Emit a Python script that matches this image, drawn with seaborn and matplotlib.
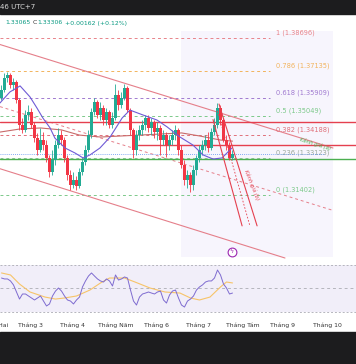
import matplotlib
matplotlib.use("Agg")
import matplotlib.pyplot as plt
from matplotlib.patches import Rectangle
import numpy as np
import pandas as pd
import seaborn as sns

sns.set_theme(style="white")
plt.rcParams['font.family'] = ['DejaVu Sans']

# ---------------- data ----------------
open_ = [1.3590,1.3627,1.3683,1.3697,1.3650,1.3664,1.3581,1.3465,1.3442,1.3511,
         1.3525,1.3465,1.3404,1.3349,1.3395,1.3372,1.3312,1.3247,1.3302,1.3372,
         1.3418,1.3395,1.3312,1.3233,1.3187,1.3210,1.3182,1.3247,1.3293,1.3349,
         1.3418,1.3525,1.3571,1.3511,1.3544,1.3488,1.3525,1.3465,1.3497,1.3604,
         1.3558,1.3590,1.3636,1.3534,1.3442,1.3349,1.3418,1.3442,1.3465,1.3497,
         1.3451,1.3479,1.3432,1.3451,1.3395,1.3418,1.3372,1.3395,1.3418,1.3442,
         1.3349,1.3279,1.3210,1.3233,1.3187,1.3256,1.3312,1.3349,1.3372,1.3395,
         1.3358,1.3432,1.3465,1.3544,1.3488,1.3395,1.3372,1.3312]
close = [1.3627,1.3683,1.3697,1.3650,1.3664,1.3581,1.3465,1.3442,1.3511,1.3525,
         1.3465,1.3404,1.3349,1.3395,1.3372,1.3312,1.3247,1.3302,1.3372,1.3418,
         1.3395,1.3312,1.3233,1.3187,1.3210,1.3182,1.3247,1.3293,1.3349,1.3418,
         1.3525,1.3571,1.3511,1.3544,1.3488,1.3525,1.3465,1.3497,1.3604,1.3558,
         1.3590,1.3636,1.3534,1.3442,1.3349,1.3418,1.3442,1.3465,1.3497,1.3451,
         1.3479,1.3432,1.3451,1.3395,1.3418,1.3372,1.3395,1.3418,1.3442,1.3349,
         1.3279,1.3210,1.3233,1.3187,1.3256,1.3312,1.3349,1.3372,1.3395,1.3358,
         1.3432,1.3465,1.3544,1.3488,1.3395,1.3372,1.3312,1.3331]
high = [1.3650,1.3706,1.3711,1.3706,1.3683,1.3673,1.3590,1.3497,1.3534,1.3558,
        1.3544,1.3479,1.3428,1.3451,1.3432,1.3395,1.3326,1.3349,1.3395,1.3451,
        1.3442,1.3409,1.3326,1.3256,1.3247,1.3228,1.3265,1.3312,1.3372,1.3442,
        1.3544,1.3590,1.3581,1.3571,1.3558,1.3544,1.3534,1.3525,1.3655,1.3627,
        1.3618,1.3655,1.3646,1.3544,1.3451,1.3442,1.3465,1.3488,1.3511,1.3511,
        1.3497,1.3488,1.3479,1.3465,1.3442,1.3432,1.3418,1.3442,1.3465,1.3451,
        1.3372,1.3302,1.3256,1.3247,1.3279,1.3326,1.3372,1.3395,1.3418,1.3432,
        1.3451,1.3497,1.3567,1.3558,1.3497,1.3418,1.3386,1.3349]
low = [1.3581,1.3618,1.3664,1.3636,1.3627,1.3567,1.3442,1.3428,1.3432,1.3488,
       1.3451,1.3386,1.3326,1.3340,1.3349,1.3293,1.3224,1.3233,1.3279,1.3358,
       1.3372,1.3293,1.3210,1.3163,1.3173,1.3163,1.3173,1.3233,1.3279,1.3340,
       1.3404,1.3511,1.3497,1.3488,1.3465,1.3465,1.3451,1.3451,1.3488,1.3534,
       1.3544,1.3581,1.3525,1.3418,1.3312,1.3326,1.3395,1.3418,1.3442,1.3432,
       1.3418,1.3404,1.3395,1.3326,1.3372,1.3316,1.3349,1.3372,1.3395,1.3326,
       1.3265,1.3187,1.3173,1.3154,1.3163,1.3233,1.3293,1.3326,1.3349,1.3340,
       1.3349,1.3418,1.3451,1.3465,1.3386,1.3349,1.3302,1.3302]

rsi = [58.5,57.7,57.7,56.0,52.6,46.6,40.6,44.9,44.9,43.2,
       41.5,39.8,41.5,43.2,38.9,34.7,36.4,43.2,47.4,50.0,
       47.4,43.2,39.8,38.9,36.4,39.8,42.3,50.9,56.0,60.2,
       62.8,60.2,57.7,56.0,55.1,57.7,56.0,51.7,61.1,56.8,
       57.7,59.4,58.5,48.3,38.9,35.5,42.3,44.9,45.7,46.6,
       45.7,44.9,46.6,47.4,39.8,37.2,44.0,47.4,48.3,41.5,
       35.5,33.8,38.9,40.6,43.2,48.3,50.9,52.6,55.1,56.0,
       56.0,58.5,65.3,61.1,53.4,50.0,44.9,45.7]
rsi_ma_idx = [0, 3, 6, 9.5, 14.5, 18, 21, 25, 29.5, 33, 36, 41, 44.5, 49.5,
              54.5, 59.5, 63, 66, 69.5, 73, 75, 77]
rsi_ma_val = [62.8, 61.1, 53.4, 46.6, 42.3, 40.6, 41.5, 43.2, 48.3, 54.3, 58.5,
              58.5, 55.1, 50.0, 46.6, 45.7, 41.5, 39.8, 42.3, 50.9, 55.1, 54.3]

ma_fast_idx = [-0.5, 2.8, 6.2, 9.5, 11.8, 13.8, 16.2, 17.8, 21.2, 24.5, 27.2, 29.5,
               32.8, 36.2, 40.2, 42.8, 47.2, 51.8, 55.2, 59.5, 63.8, 67.2, 70.5,
               73.5, 76.8]
ma_fast_val = [1.3567, 1.3618, 1.3646, 1.3595, 1.3544, 1.3497, 1.3451, 1.3404,
               1.3358, 1.3335, 1.3312, 1.3326, 1.3358, 1.3409, 1.3497, 1.3534,
               1.3511, 1.3488, 1.3456, 1.3409, 1.3372, 1.3326, 1.3307, 1.3312,
               1.3358]
ma_slow_idx = [-0.5, 6, 13, 20, 26, 33, 40, 46, 53, 60, 66, 73, 77]
ma_slow_val = [1.3432, 1.3446, 1.3451, 1.3442, 1.3418, 1.3409, 1.3414, 1.3418,
               1.3423, 1.3428, 1.3414, 1.3395, 1.3390]

fib_ratio = ["1", "0.786", "0.618", "0.5", "0.382", "0.236", "0"]
fib_price = [1.38696, 1.37135, 1.35909, 1.35049, 1.34188, 1.33123, 1.31402]
fib_color = ["#e8838a", "#f2b35c", "#a07ad0", "#7cc98a", "#e0707a", "#8fc49a", "#7cc98a"]
fib_text_color = ["#e8838a", "#f2b35c", "#a07ad0", "#7cc98a", "#e0707a", "#9aa89a", "#7cc98a"]
fib_x = [-0.5, 89.5]

chan_a_x = [-0.5, 110.5]
chan_a_upper = [1.3838, 1.3358]
chan_a_mid_x = [-0.5, 110.2]
chan_a_mid = [1.3550, 1.3070]
chan_a_lower_x = [-0.5, 94.5]
chan_a_lower = [1.3262, 1.2848]

chan_b1_x = [72.5, 85.2]
chan_b1 = [1.3562, 1.2997]
chan_b2_x = [70.5, 80.2]
chan_b2 = [1.3490, 1.2997]
chan_b_mid_x = [72.0, 82.8]
chan_b_mid = [1.3530, 1.2997]

level_red1 = 1.3479
level_red2 = 1.3372
level_red2_start = 45.5
level_green = 1.3307
last_price = 1.33306

month_labels = ["Tháng 3", "Tháng 4", "Tháng Năm", "Tháng 6", "Tháng 7",
                "Tháng Tám", "Tháng 9", "Tháng 10"]
month_pos = [9.8, 23.8, 38.2, 51.8, 65.8, 80.5, 93.8, 108.5]

# ---------------- figure ----------------
W, H = 356, 364
fig = plt.figure(figsize=(W / 100, H / 100), dpi=100)
fig.patch.set_facecolor("white")

def fy(px):
    return 1 - px / H

ax = fig.add_axes([0, fy(262), 1, (262 - 14) / H])
axr = fig.add_axes([0, fy(318), 1, (318 - 262) / H])
xlim = (-0.5, 118.17)
ax.set_xlim(*xlim)
ax.set_ylim(1.28295, 1.39795)
axr.set_xlim(*xlim)
axr.set_ylim(24.47, 72.13)
for a in (ax, axr):
    for s in a.spines.values():
        s.set_visible(False)
    a.set_facecolor("white")
ax.set_xticks([])
ax.set_yticks([])
axr.set_yticks([])

df = pd.DataFrame({"i": np.arange(len(close)), "o": open_, "h": high, "l": low, "c": close})
df["up"] = df["c"] >= df["o"]
green, red = "#22ab94", "#f23645"
cols = np.where(df["up"], green, red)

# faint lavender area
ax.axvspan(60, 110.5, ymin=0.02, ymax=0.93, color="#f7f5fd", zorder=0, lw=0)

# fib levels
for r, p, c, tc in zip(fib_ratio, fib_price, fib_color, fib_text_color):
    ax.plot(fib_x, [p, p], color=c, lw=0.7, ls=(0, (3, 3)), zorder=1)
    ax.annotate(f"{r} ({p:.5f})", (91.5, p), xytext=(0, 1.5), textcoords="offset points",
                fontsize=4.8, color=tc, ha="left", va="bottom")

# channel (a)
ax.plot(chan_a_x, chan_a_upper, color="#e57f8a", lw=0.8, zorder=2)
ax.plot(chan_a_lower_x, chan_a_lower, color="#e57f8a", lw=0.8, zorder=2)
ax.plot(chan_a_mid_x, chan_a_mid, color="#e57f8a", lw=0.7, ls=(0, (3, 3)), zorder=2)

# horizontal levels
ax.axhline(level_red1, color="#e5404f", lw=1.0, zorder=3)
ax.plot([level_red2_start, xlim[1]], [level_red2, level_red2], color="#e5404f", lw=1.0, zorder=3)
ax.axhline(level_green, color="#4caf50", lw=1.0, zorder=3)
ax.plot([xlim[0], 107.8], [last_price, last_price], color="#5b8ff0", lw=0.6, ls=(0, (1, 1.5)), zorder=3)

# slow MA and fast MA
sns.lineplot(x=ma_slow_idx, y=ma_slow_val, ax=ax, color="#c96a6a", lw=0.8, zorder=4)
sns.lineplot(x=ma_fast_idx, y=ma_fast_val, ax=ax, color="#6f5bd6", lw=0.8, zorder=6)

# candles
ax.vlines(df["i"], df["l"], df["h"], colors=cols, lw=0.6, zorder=5)
body_h = (df["c"] - df["o"]).abs().clip(lower=0.00015)
ax.bar(df["i"], body_h, bottom=np.minimum(df["o"], df["c"]), width=0.7,
       color=cols, lw=0, zorder=5)

# channel (b)
ax.plot(chan_b1_x, chan_b1, color="#e5404f", lw=0.8, zorder=7)
ax.plot(chan_b2_x, chan_b2, color="#e5404f", lw=0.8, zorder=7)
ax.plot(chan_b_mid_x, chan_b_mid, color="#e5404f", lw=0.6, ls=(0, (2, 2)), zorder=7)

ax.text(104.5, 1.3375, "Kênh giá (a)", fontsize=3.8, color="#4caf50", rotation=-17,
        ha="center", va="center", style="italic")
ax.text(83.5, 1.3185, "Kênh giá (b)", fontsize=3.8, color="#e5404f", rotation=-68,
        ha="center", va="center", style="italic")

# event icon
ax.scatter([76.8], [1.2876], s=40, facecolor="white", edgecolor="#9c27b0", lw=0.8, zorder=8)
ax.text(76.8, 1.2876, "ϟ", fontsize=4.5, color="#9c27b0", ha="center", va="center", zorder=9)

# RSI panel
axr.axhspan(30, 70, color="#f1eef9", lw=0, zorder=0)
for lv, ls in ((70, (0, (2, 2))), (50, (0, (3, 3))), (30, (0, (2, 2)))):
    axr.axhline(lv, color="#b5b5bd", lw=0.7, ls=ls, zorder=1)
sns.lineplot(x=rsi_ma_idx, y=rsi_ma_val, ax=axr, color="#f7c469", lw=0.8, zorder=2)
sns.lineplot(x=np.arange(len(rsi)), y=rsi, ax=axr, color="#7e6bd0", lw=0.7, zorder=3)

axr.set_xticks(month_pos)
axr.set_xticklabels(month_labels, fontsize=4.4, color="#333333")
axr.tick_params(axis="x", length=0, pad=3)
axr.annotate("Tháng Hai", (2.4, 0), xycoords=("data", "axes fraction"),
             xytext=(0, -3), textcoords="offset points", fontsize=4.4,
             color="#333333", ha="right", va="top", annotation_clip=False)
for a in (ax, axr):
    a.set_xlabel("")
    a.set_ylabel("")

# dark bars and header texts
fig.patches.append(Rectangle((0, fy(14)), 1, 14 / H, transform=fig.transFigure,
                             color="#1c1c1e", zorder=0))
fig.patches.append(Rectangle((0, 0), 1, 32 / H, transform=fig.transFigure,
                             color="#1c1c1e", zorder=0))
fig.text(0, fy(7), "46 UTC+7", fontsize=5.0, color="#d8d8d8", ha="left", va="center")
fig.text(31 / W, fy(23), "1.33065", fontsize=4.4, color="#089981", ha="right", va="center")
fig.text(33 / W, fy(23), "C", fontsize=4.4, color="#333333", ha="left", va="center")
fig.text(37 / W, fy(23), "1.33306", fontsize=4.4, color="#089981", ha="left", va="center")
fig.text(65 / W, fy(23), "+0.00162 (+0.12%)", fontsize=4.4, color="#089981", ha="left", va="center")

fig.savefig("out.png", dpi=100)
